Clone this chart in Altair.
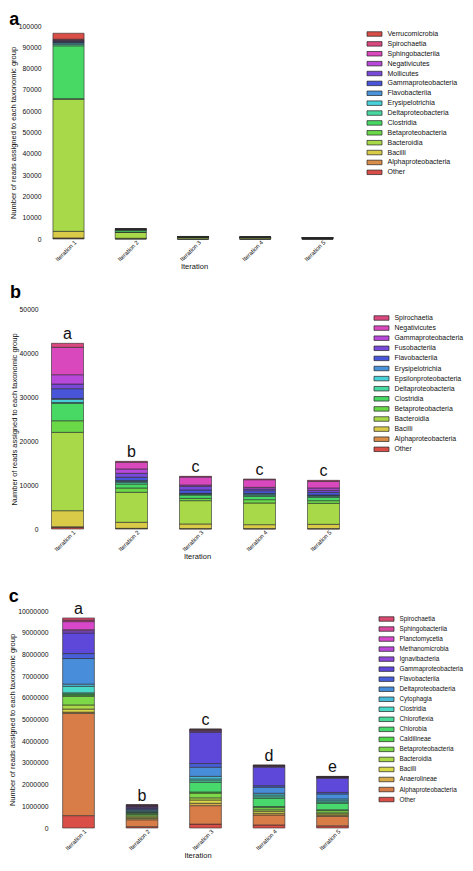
import colorsys
import altair as alt
import pandas as pd

ITER = ["Iteration 1", "Iteration 2", "Iteration 3", "Iteration 4", "Iteration 5"]
YTITLE = "Number of reads assigned to each taxonomic group"

# ---------------- panel a (stack order bottom -> top) ----------------
a_taxa = ["Other", "Alphaproteobacteria", "Bacilli", "Bacteroidia", "Betaproteobacteria",
          "Clostridia", "Deltaproteobacteria", "Erysipelotrichia", "Flavobacteriia",
          "Gammaproteobacteria", "Mollicutes", "Negativicutes", "Sphingobacteriia",
          "Spirochaetia", "Verrucomicrobia"]
a_reads = {
    "Other": [300, 100, 20, 15, 10],
    "Alphaproteobacteria": [200, 50, 20, 15, 10],
    "Bacilli": [3100, 200, 50, 40, 30],
    "Bacteroidia": [62000, 2700, 700, 550, 400],
    "Betaproteobacteria": [300, 200, 50, 40, 30],
    "Clostridia": [24800, 900, 200, 130, 100],
    "Deltaproteobacteria": [700, 150, 30, 20, 20],
    "Erysipelotrichia": [600, 100, 20, 15, 15],
    "Flavobacteriia": [300, 100, 20, 15, 15],
    "Gammaproteobacteria": [300, 100, 20, 15, 15],
    "Mollicutes": [300, 30, 10, 10, 10],
    "Negativicutes": [300, 50, 20, 15, 10],
    "Sphingobacteriia": [300, 30, 10, 10, 10],
    "Spirochaetia": [300, 30, 10, 10, 10],
    "Verrucomicrobia": [2800, 30, 10, 10, 10],
}
a_ticks = [0, 10000, 20000, 30000, 40000, 50000, 60000, 70000, 80000, 90000, 100000]

# ---------------- panel b ----------------
b_taxa = ["Other", "Alphaproteobacteria", "Bacilli", "Bacteroidia", "Betaproteobacteria",
          "Clostridia", "Deltaproteobacteria", "Epsilonproteobacteria", "Erysipelotrichia",
          "Flavobacteriia", "Fusobacteriia", "Gammaproteobacteria", "Negativicutes",
          "Spirochaetia"]
b_reads = {
    "Other": [400, 100, 60, 50, 50],
    "Alphaproteobacteria": [100, 50, 40, 40, 40],
    "Bacilli": [3660, 1370, 1040, 900, 970],
    "Bacteroidia": [17810, 6820, 5300, 4920, 4770],
    "Betaproteobacteria": [2630, 980, 530, 760, 610],
    "Clostridia": [3960, 910, 760, 750, 760],
    "Deltaproteobacteria": [200, 380, 180, 300, 250],
    "Epsilonproteobacteria": [700, 200, 100, 200, 140],
    "Erysipelotrichia": [200, 200, 100, 180, 140],
    "Flavobacteriia": [2230, 740, 750, 610, 600],
    "Fusobacteriia": [1060, 900, 840, 380, 460],
    "Gammaproteobacteria": [2120, 990, 300, 380, 530],
    "Negativicutes": [6220, 1520, 1820, 1740, 1510],
    "Spirochaetia": [910, 220, 150, 150, 230],
}
b_ticks = [0, 10000, 20000, 30000, 40000, 50000]
b_letters = ["a", "b", "c", "c", "c"]

# ---------------- panel c ----------------
c_taxa = ["Other", "Alphaproteobacteria", "Anaerolineae", "Bacilli", "Bacteroidia",
          "Betaproteobacteria", "Caldilineae", "Chlorobia", "Chloroflexia", "Clostridia",
          "Cytophagia", "Deltaproteobacteria", "Flavobacteriia", "Gammaproteobacteria",
          "Ignavibacteria", "Methanomicrobia", "Planctomycetia", "Sphingobacteriia",
          "Spirochaetia"]
c_reads = {
    "Other": [570000, 60000, 180000, 140000, 100000],
    "Alphaproteobacteria": [4710000, 320000, 850000, 460000, 440000],
    "Anaerolineae": [60000, 60000, 110000, 80000, 50000],
    "Bacilli": [140000, 60000, 150000, 90000, 60000],
    "Bacteroidia": [190000, 60000, 100000, 70000, 50000],
    "Betaproteobacteria": [400000, 60000, 220000, 100000, 100000],
    "Caldilineae": [60000, 50000, 50000, 50000, 40000],
    "Chlorobia": [50000, 50000, 440000, 380000, 300000],
    "Chloroflexia": [50000, 20000, 80000, 70000, 60000],
    "Clostridia": [300000, 30000, 80000, 80000, 60000],
    "Cytophagia": [100000, 50000, 120000, 80000, 80000],
    "Deltaproteobacteria": [1180000, 40000, 420000, 280000, 230000],
    "Flavobacteriia": [230000, 40000, 170000, 70000, 70000],
    "Gammaproteobacteria": [950000, 50000, 1440000, 850000, 650000],
    "Ignavibacteria": [100000, 40000, 50000, 40000, 40000],
    "Methanomicrobia": [50000, 20000, 30000, 20000, 20000],
    "Planctomycetia": [370000, 40000, 40000, 20000, 10000],
    "Sphingobacteriia": [70000, 10000, 20000, 10000, 10000],
    "Spirochaetia": [100000, 10000, 10000, 10000, 10000],
}
c_ticks = [0, 1000000, 2000000, 3000000, 4000000, 5000000, 6000000, 7000000,
           8000000, 9000000, 10000000]
c_letters = ["a", "b", "c", "d", "e"]

# ---------------- styling helpers ----------------
FONT = "Liberation Sans"
X0 = 49.5          # estimated page x of the plot origin
RECT = "M-2.5,-0.75L2.5,-0.75L2.5,0.75L-2.5,0.75Z"
ENTRY_H = 9.0      # legend entry height (px)
ENTRY_MID = 2.5    # offset of the first legend row's centre below legendY


def hsv_hex(h):
    r, g, b = colorsys.hsv_to_rgb((h % 360) / 360.0, 0.67, 0.85)
    return "#%02x%02x%02x" % (round(r * 255), round(g * 255), round(b * 255))


def long_table(taxa, reads):
    rows = []
    for rank, t in enumerate(taxa):
        for it, v in zip(ITER, reads[t]):
            rows.append({"iteration": it, "taxon": t, "reads": v, "rank": rank})
    return pd.DataFrame(rows)


def panel(name, taxa, reads, ticks, hue_step, height, step, first_center,
          title_center, legend_left, legend_label_left, legend_row1, plot_top,
          row_gap, legend_font, title_offset, yaxis_offset, letters=None, extra_top=0):
    df = long_table(taxa, reads)
    width = 5 * step
    slack = 0.5 * step
    start = first_center - X0 - 0.25 * step
    al = min(max(start / slack, 0.0), 1.0)
    colors = [hsv_hex(3 + i * hue_step) for i in range(len(taxa))]
    full_h = height + extra_top
    ymax = ticks[-1] * full_h / height
    xscale = alt.Scale(paddingInner=0.5, paddingOuter=0.25, align=al)
    xaxis = alt.Axis(title="Iteration", labelAngle=315, labelAlign="right",
                     labelBaseline="middle", labelPadding=2, labelOffset=7,
                     ticks=False, domain=False, labelFontSize=6,
                     titleFontSize=7.5, labelFont=FONT, titleFont=FONT,
                     titleFontWeight="normal", titleX=title_center - X0,
                     titlePadding=1, titleColor="#111", labelColor="#111")
    yscale = alt.Scale(domain=[0, ymax], nice=False)
    yaxis = alt.Axis(values=ticks, format="d", title=YTITLE, ticks=False,
                     domain=False, grid=False, labelPadding=2, titlePadding=1,
                     offset=yaxis_offset,
                     titleY=extra_top + height / 2, labelOverlap=False,
                     labelFontSize=6.8, titleFontSize=7.5, labelFont=FONT,
                     titleFont=FONT, titleFontWeight="normal",
                     titleColor="#111", labelColor="#111")
    color = alt.Color("taxon:N",
                      scale=alt.Scale(domain=taxa[::-1], range=colors[::-1]),
                      legend=alt.Legend(orient="none", legendX=legend_left + 4.5 - X0,
                                        legendY=legend_row1 - (plot_top - extra_top) - ENTRY_MID,
                                        title=None, symbolType=RECT, symbolSize=36,
                                        symbolStrokeColor="#222", symbolStrokeWidth=0.7,
                                        symbolOpacity=1, labelFontSize=legend_font,
                                        labelFont=FONT,
                                        labelOffset=legend_label_left - (legend_left + 4.5) - 6,
                                        rowPadding=row_gap - ENTRY_H, padding=0,
                                        labelColor="#111"))
    bars = alt.Chart(df).mark_bar(stroke="#2b2b2b", strokeWidth=0.6, opacity=1).encode(
        x=alt.X("iteration:N", sort=ITER, scale=xscale, axis=xaxis),
        y=alt.Y("reads:Q", stack="zero", scale=yscale, axis=yaxis),
        color=color, order=alt.Order("rank:Q", sort="ascending"))
    layers = [bars]
    if letters:
        tot = df.groupby("iteration")["reads"].sum()
        ldf = pd.DataFrame({"iteration": ITER, "letter": letters,
                            "total": [int(tot[i]) for i in ITER]})
        text = alt.Chart(ldf).mark_text(baseline="alphabetic", dy=-4, fontSize=16,
                                        font=FONT, color="#111").encode(
            x=alt.X("iteration:N", sort=ITER, scale=xscale, axis=xaxis),
            y=alt.Y("total:Q", scale=yscale, axis=yaxis),
            text="letter:N")
        layers.append(text)
    return alt.layer(*layers).properties(
        width=width, height=full_h,
        title=alt.Title(name, anchor="start", frame="bounds", fontSize=18,
                        fontWeight="bold", font=FONT, offset=title_offset, color="#000"))


pa = panel("a", a_taxa, a_reads, a_ticks, 360 / 14, 213, 62.25, 68, 193.5,
           366, 386, 33, 26, 9.88, 7.0, -6, 7)
pb = panel("b", b_taxa, b_reads, b_ticks, 360 / 14, 220, 64, 67, 196.5,
           373, 393, 317, 309, 10.1, 6.9, 4, 10, b_letters)
pc = panel("c", c_taxa, c_reads, c_ticks, 360 / 19, 217, 63.5, 78, 197,
           378, 398, 618, 611, 10.03, 6.4, -6.5, 0, c_letters, extra_top=12)

chart = alt.vconcat(pa, pb, pc, spacing=70, bounds="flush").resolve_scale(
    color="independent", x="independent", y="independent").properties(
    padding={"top": 3, "left": 0, "right": 0, "bottom": 0},
    background="white").configure_view(stroke=None)

chart.save("out.html", embed_options={"renderer": "svg", "actions": False})
